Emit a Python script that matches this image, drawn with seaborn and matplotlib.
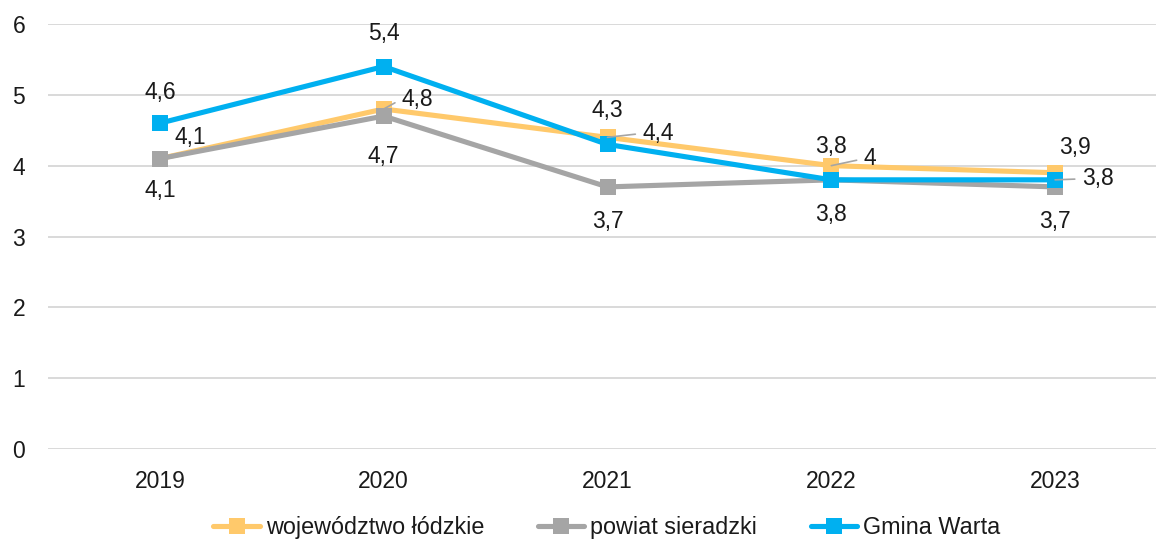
import matplotlib
matplotlib.use("Agg")
import matplotlib.pyplot as plt
import seaborn as sns
import pandas as pd

years = ["2019", "2020", "2021", "2022", "2023"]
series_names = ["województwo łódzkie", "powiat sieradzki", "Gmina Warta"]
wojewodztwo = [4.1, 4.8, 4.4, 4.0, 3.9]
powiat = [4.1, 4.7, 3.7, 3.8, 3.7]
gmina = [4.6, 5.4, 4.3, 3.8, 3.8]
y_ticks = [0, 1, 2, 3, 4, 5, 6]

colors = ["#FFC96B", "#A5A5A5", "#00B0F0"]

rows = []
for name, vals in zip(series_names, [wojewodztwo, powiat, gmina]):
    for i, (yr, v) in enumerate(zip(years, vals)):
        rows.append({"pos": i, "year": yr, "value": v, "series": name})
df = pd.DataFrame(rows)

sns.set_style("white")
plt.rcParams["font.family"] = ["Liberation Sans", "DejaVu Sans"]

FS = 16.5
TXT = "#1a1a1a"

fig = plt.figure(figsize=(11.56, 5.42), dpi=100)
ax = fig.add_axes([48 / 1156, 93 / 542, (1167 - 48) / 1156, (449 - 24) / 542])

sns.lineplot(data=df, x="pos", y="value", hue="series", hue_order=series_names,
             palette=colors, style="series", markers={n: "s" for n in series_names},
             dashes=False, markersize=11, markeredgewidth=0, linewidth=3.7,
             ax=ax, legend=True, sort=False)

ax.set_xlim(-0.5, 4.5)
ax.set_ylim(0, 6)
ax.set_yticks(y_ticks)
ax.set_xticks(range(len(years)))
ax.set_xticklabels(years)
ax.set_xlabel("")
ax.set_ylabel("")
ax.grid(axis="y", color="#D9D9D9", linewidth=1.4)
ax.set_axisbelow(True)
for s in ax.spines.values():
    s.set_visible(False)
ax.tick_params(axis="both", length=0, labelsize=FS, colors=TXT)
ax.tick_params(axis="x", pad=15)
ax.tick_params(axis="y", pad=21)
for lab in ax.get_yticklabels():
    lab.set_horizontalalignment("center")


def fmt(v):
    s = f"{v:.1f}".replace(".", ",")
    if s.endswith(",0"):
        s = s[:-2]
    return s


px = 0.72  # pixel -> points
# (dx, dy, leader) offsets in pixels
off_w = [(30, 21, False), (34, 10, True), (51, 4, True), (39, 7, True), (20, 25, False)]
off_p = [(0, -32, False), (0, -40, False), (0, -35, False), (0, -35, False), (0, -35, False)]
off_g = [(0, 31, False), (0, 33, False), (0, 34, False), (0, 33, False), (43, 1, True)]

for vals, offs in [(wojewodztwo, off_w), (powiat, off_p), (gmina, off_g)]:
    for i, (v, (dx, dy, lead)) in enumerate(zip(vals, offs)):
        kw = {}
        if lead:
            kw["arrowprops"] = dict(arrowstyle="-", color="#A5A5A5", lw=1.2,
                                    shrinkA=3, shrinkB=0, relpos=(0, 0.5))
        ax.annotate(fmt(v), xy=(i, v), xytext=(dx * px, dy * px),
                    textcoords="offset points", ha="center", va="center",
                    fontsize=FS, color=TXT, **kw)

handles, labels = ax.get_legend_handles_labels()
ax.legend_.remove()
leg = fig.legend(handles, labels, loc="center", bbox_to_anchor=(0.525, 0.027),
                 ncol=3, frameon=False, fontsize=16.8, handlelength=2.0,
                 columnspacing=2.3, handletextpad=0.25, borderpad=0.2)
for t in leg.get_texts():
    t.set_color(TXT)

fig.savefig("out.png", dpi=100)
